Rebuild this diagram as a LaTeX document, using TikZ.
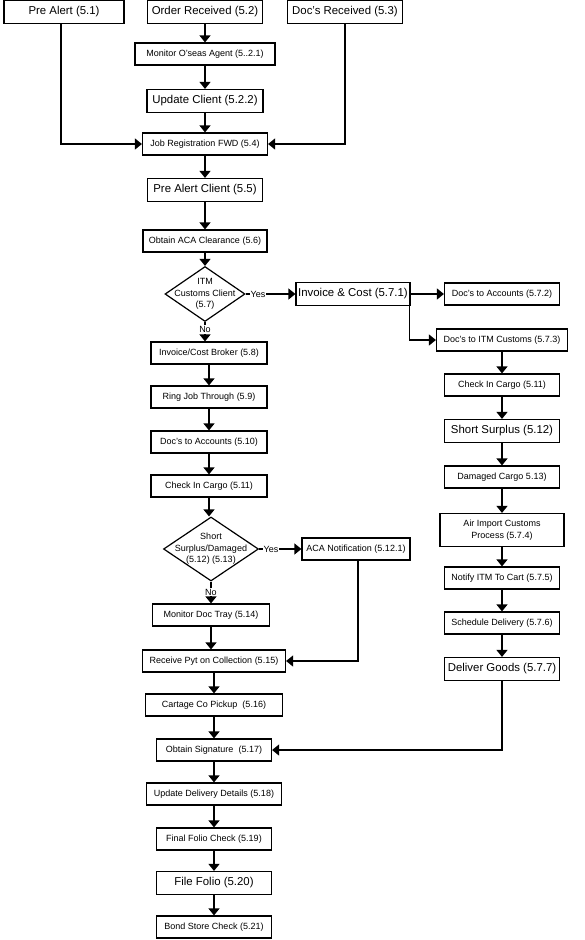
\documentclass[tikz,border=0pt]{standalone}
\usepackage{fontspec}
\setmainfont{Liberation Sans}
\usepackage{tikz}
\usetikzlibrary{arrows.meta, positioning, shapes.geometric}
\newcommand{\smalltxt}{\fontsize{9}{11.5}\selectfont}
\newcommand{\bigtxt}{\fontsize{11.4}{13}\selectfont}

\begin{document}
\begin{tikzpicture}[x=1pt, y=-1pt, line width=1.2pt,
  box/.style={draw, fill=white, inner sep=0pt, minimum height=22pt, font=\smalltxt},
  bigbox/.style={box, minimum height=23pt, font=\bigtxt},
  decision/.style={diamond, draw, inner sep=0pt},
  flow/.style={-{Triangle[width=11pt, length=7pt]}},
  answer/.style={fill=white, inner sep=1pt, font=\smalltxt}]
  \useasboundingbox (0,0) rectangle (585,940);
  % top row
  \node[bigbox, minimum width=120pt] (prealert) at (64,12) {Pre Alert (5.1)};
  \node[bigbox, minimum width=115pt] (order) at (205,12) {Order Received (5.2)};
  \node[bigbox, minimum width=115pt] (docsrcvd) at (345,12) {Doc's Received (5.3)};
  % main column
  \node[box, minimum width=140pt] (monitor) at (205,54) {Monitor O'seas Agent (5..2.1)};
  \node[bigbox, minimum width=116pt] (update) at (205,101) {Update Client (5.2.2)};
  \node[box, minimum width=125pt] (jobreg) at (205,144) {Job Registration FWD (5.4)};
  \node[bigbox, minimum width=115pt] (alertclient) at (205,190) {Pre Alert Client (5.5)};
  \node[box, minimum width=124pt] (acaclear) at (205,241) {Obtain ACA Clearance (5.6)};
  \node[decision, minimum width=80pt, minimum height=55pt,
        label={[align=center, font=\smalltxt]center:ITM\\Customs Client\\(5.7)}]
        (itmclient) at (205,294) {};
  \node[box, minimum width=116pt] (broker) at (209,353) {Invoice/Cost Broker (5.8)};
  \node[box, minimum width=116pt] (ring) at (209,397) {Ring Job Through (5.9)};
  \node[box, minimum width=116pt] (docsacc10) at (209,442) {Doc's to Accounts (5.10)};
  \node[box, minimum width=116pt] (lcheck) at (209,486) {Check In Cargo (5.11)};
  \node[decision, minimum width=95pt, minimum height=64pt,
        label={[align=center, font=\smalltxt]center:Short\\Surplus/Damaged\\(5.12) (5.13)}]
        (shortdmg) at (211,549) {};
  \node[box, minimum width=108pt] (acanote) at (356,549) {ACA Notification (5.12.1)};
  \node[box, minimum width=117pt] (doctray) at (211,615) {Monitor Doc Tray (5.14)};
  \node[box, minimum width=143pt] (receive) at (214,661) {Receive Pyt on Collection (5.15)};
  \node[box, minimum width=137pt] (cartage) at (214,705) {Cartage Co Pickup\ \ (5.16)};
  \node[box, minimum width=115pt] (signature) at (214,750) {Obtain Signature\ \ (5.17)};
  \node[box, minimum width=135pt] (delivery) at (214,794) {Update Delivery Details (5.18)};
  \node[box, minimum width=115pt] (folio) at (214,839) {Final Folio Check (5.19)};
  \node[bigbox, minimum width=115pt] (filefolio) at (214,883) {File Folio (5.20)};
  \node[box, minimum width=115pt] (bond) at (214,927) {Bond Store Check (5.21)};
  % customs branch
  \node[bigbox, minimum width=114pt] (invcost) at (353,294) {Invoice \& Cost (5.7.1)};
  \node[box, minimum width=115pt] (docsacc) at (502,294) {Doc's to Accounts (5.7.2)};
  \node[box, minimum width=131pt] (docsitm) at (502,340) {Doc's to ITM Customs (5.7.3)};
  \node[box, minimum width=115pt] (rcheck) at (502,385) {Check In Cargo (5.11)};
  \node[bigbox, minimum width=115pt] (surplus) at (502,431) {Short Surplus (5.12)};
  \node[box, minimum width=115pt] (damaged) at (502,477) {Damaged Cargo 5.13)};
  \node[box, minimum width=124pt, minimum height=33pt, align=center]
        (airimport) at (502,530) {Air Import Customs\\Process (5.7.4)};
  \node[box, minimum width=115pt] (notify) at (502,578) {Notify ITM To Cart (5.7.5)};
  \node[box, minimum width=115pt] (schedule) at (502,623) {Schedule Delivery (5.7.6)};
  \node[bigbox, minimum width=115pt] (deliver) at (502,669) {Deliver Goods (5.7.7)};
  % connectors, main column
  \draw[flow] (order) -- (monitor);
  \draw[flow] (monitor) -- (update);
  \draw[flow] (update) -- (jobreg);
  \draw[flow] (prealert.south -| 61,0) |- (jobreg);
  \draw[flow] (docsrcvd) |- (jobreg);
  \draw[flow] (jobreg) -- (alertclient);
  \draw[flow] (alertclient) -- (acaclear);
  \draw[flow] (acaclear) -- (itmclient);
  \draw[flow] (itmclient) -- node[answer, pos=0.38]{No} (itmclient |- broker.north);
  \draw[flow] (broker) -- (ring);
  \draw[flow] (ring) -- (docsacc10);
  \draw[flow] (docsacc10) -- (lcheck);
  \draw[flow] (lcheck) -- (lcheck |- shortdmg.north);
  \draw[flow] (shortdmg) -- node[answer, pos=0.48]{No} (doctray);
  \draw[flow] (shortdmg) -- node[answer, pos=0.28]{Yes} (acanote);
  \draw[flow] (doctray) -- (doctray |- receive.north);
  \draw[flow] (acanote.south -| 358,0) |- (receive);
  \draw[flow] (receive) -- (cartage);
  \draw[flow] (cartage) -- (signature);
  \draw[flow] (signature) -- (delivery);
  \draw[flow] (delivery) -- (folio);
  \draw[flow] (folio) -- (filefolio);
  \draw[flow] (filefolio) -- (bond);
  % connectors, customs branch
  \draw[flow] (itmclient) -- node[answer, pos=0.25]{Yes} (invcost);
  \draw[flow] (invcost) -- (docsacc);
  \draw[flow] ([xshift=-1.5pt]invcost.south east) |- (docsitm);
  \draw[flow] (docsitm) -- (rcheck);
  \draw[flow] (rcheck) -- (surplus);
  \draw[flow] (surplus) -- (damaged);
  \draw[flow] (damaged) -- (airimport);
  \draw[flow] (airimport) -- (notify);
  \draw[flow] (notify) -- (schedule);
  \draw[flow] (schedule) -- (deliver);
  \draw[flow] (deliver) |- (signature);
\end{tikzpicture}
\end{document}
